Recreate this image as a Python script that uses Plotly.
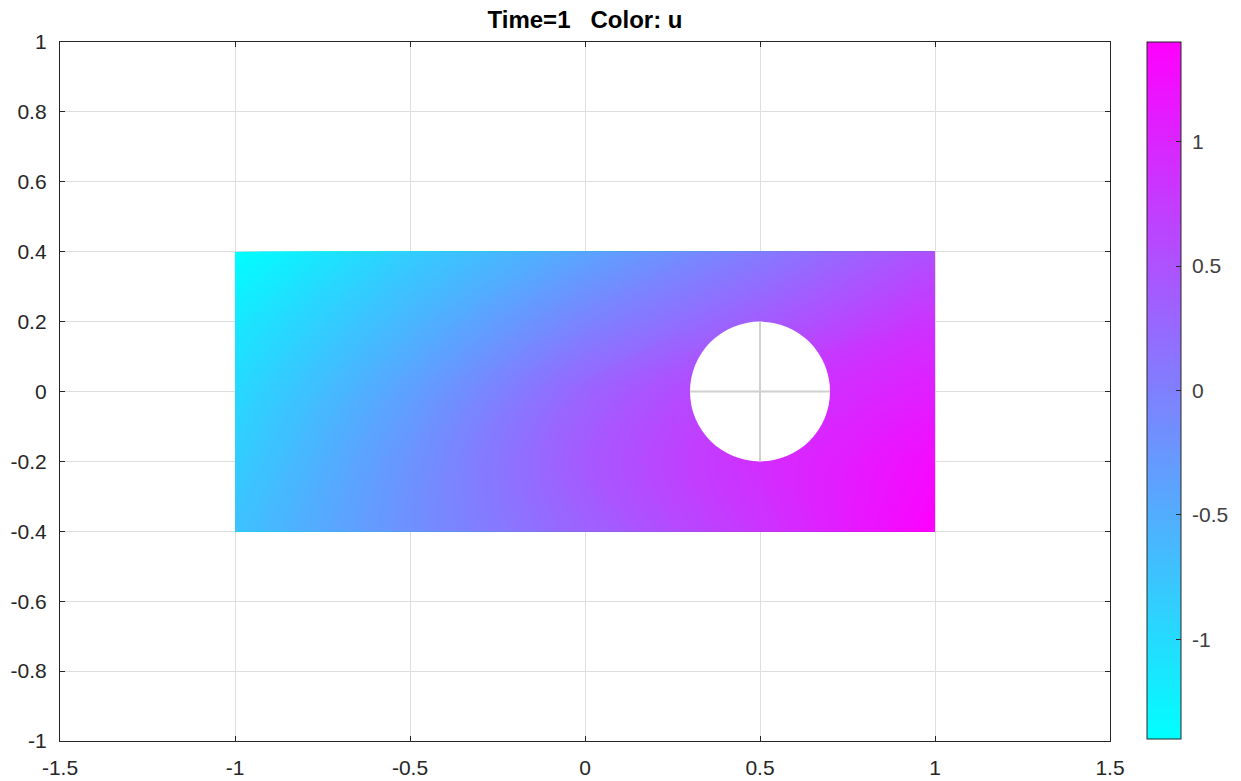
import plotly.graph_objects as go

# ---- data ----
X_GRID = [-1.0, -0.5, 0.0, 0.5, 1.0]
Y_GRID = [-0.4, -0.2, 0.0, 0.2, 0.4]
# rows follow Y_GRID (bottom to top)
U_ROW_M04 = [-0.73, -0.18, 0.32, 0.82, 1.40]
U_ROW_M02 = [-0.85, -0.22, 0.42, 0.90, 1.28]
U_ROW_00 = [-0.98, -0.36, 0.30, 0.78, 1.08]
U_ROW_P02 = [-1.15, -0.60, -0.05, 0.38, 0.85]
U_ROW_P04 = [-1.40, -0.85, -0.40, 0.05, 0.53]
U_MIN, U_MAX = -1.4, 1.4

HOLE_CENTER = (0.5, 0.0)
HOLE_RADIUS = 0.2

X_TICKS = [-1.5, -1, -0.5, 0, 0.5, 1, 1.5]
X_TICK_TEXT = ["-1.5", "-1", "-0.5", "0", "0.5", "1", "1.5"]
Y_TICKS = [-1, -0.8, -0.6, -0.4, -0.2, 0, 0.2, 0.4, 0.6, 0.8, 1]
Y_TICK_TEXT = ["-1", "-0.8", "-0.6", "-0.4", "-0.2", "0", "0.2", "0.4", "0.6", "0.8", "1"]
CB_TICKS = [-1, -0.5, 0, 0.5, 1]
CB_TICK_TEXT = ["-1", "-0.5", "0", "0.5", "1"]

TITLE = "Time=1   Color: u"

COOL = [[0.0, "#00ffff"], [1.0, "#ff00ff"]]
FONT = "Liberation Sans, Arial, Helvetica, sans-serif"
AX_COL = "#262626"
GRID_COL = "#dedede"

z = [U_ROW_M04, U_ROW_M02, U_ROW_00, U_ROW_P02, U_ROW_P04]

fig = go.Figure()
fig.add_trace(go.Contour(
    x=X_GRID, y=Y_GRID, z=z,
    colorscale=COOL, zmin=U_MIN, zmax=U_MAX, zauto=False,
    autocontour=False,
    contours=dict(start=U_MIN, end=U_MAX, size=0.01, coloring="fill", showlines=False),
    line=dict(width=0),
    hoverinfo="skip",
    colorbar=dict(
        x=(1147 - 60) / 1050, xanchor="left", xpad=0,
        y=1.0, yanchor="top", ypad=0, len=697 / 699, lenmode="fraction",
        thickness=34, thicknessmode="pixels",
        outlinecolor=AX_COL, outlinewidth=1,
        tickmode="array", tickvals=CB_TICKS,
        ticktext=["\u00a0" + t for t in CB_TICK_TEXT],
        ticks="inside", ticklen=5, tickcolor=AX_COL, tickwidth=1,
        tickfont=dict(family=FONT, size=21, color="#404040"),
    ),
))

cx, cy = HOLE_CENTER
r = HOLE_RADIUS
shapes = [
    dict(type="circle", xref="x", yref="y", x0=cx - r, x1=cx + r, y0=cy - r, y1=cy + r,
         fillcolor="white", line=dict(width=0), layer="above"),
    dict(type="line", xref="x", yref="y", x0=cx, x1=cx, y0=cy - r, y1=cy + r,
         line=dict(color="#d0d0d0", width=2), layer="above"),
    dict(type="line", xref="x", yref="y", x0=cx - r, x1=cx + r, y0=cy, y1=cy,
         line=dict(color="#d0d0d0", width=2), layer="above"),
]

axis_common = dict(
    showline=True, linecolor=AX_COL, linewidth=1.3, mirror="allticks",
    ticks="inside", ticklen=5, tickcolor=AX_COL, tickwidth=1,
    showgrid=True, gridcolor=GRID_COL, gridwidth=1, zeroline=False,
    tickfont=dict(family=FONT, size=21, color=AX_COL),
    tickmode="array", fixedrange=True, automargin=False,
)

fig.update_layout(
    template="none",
    width=1241, height=781,
    margin=dict(l=60, r=131, t=42, b=40, pad=0, autoexpand=False),
    paper_bgcolor="white", plot_bgcolor="white",
    title=dict(text="<b>" + TITLE + "</b>", x=585 / 1241, xanchor="center",
               y=1 - 20 / 781, yanchor="middle",
               font=dict(family=FONT, size=24, color="black")),
    xaxis=dict(range=[-1.5, 1.5], tickvals=X_TICKS, ticktext=X_TICK_TEXT,
               ticklabelstandoff=8, **axis_common),
    yaxis=dict(range=[-1, 1], tickvals=Y_TICKS, ticktext=Y_TICK_TEXT,
               ticklabelstandoff=8, **axis_common),
    shapes=shapes,
    showlegend=False,
)

fig.write_html(
    "out.html",
    config={"displayModeBar": False},
    post_script="document.body.style.margin='0';document.body.style.overflow='hidden';",
)
